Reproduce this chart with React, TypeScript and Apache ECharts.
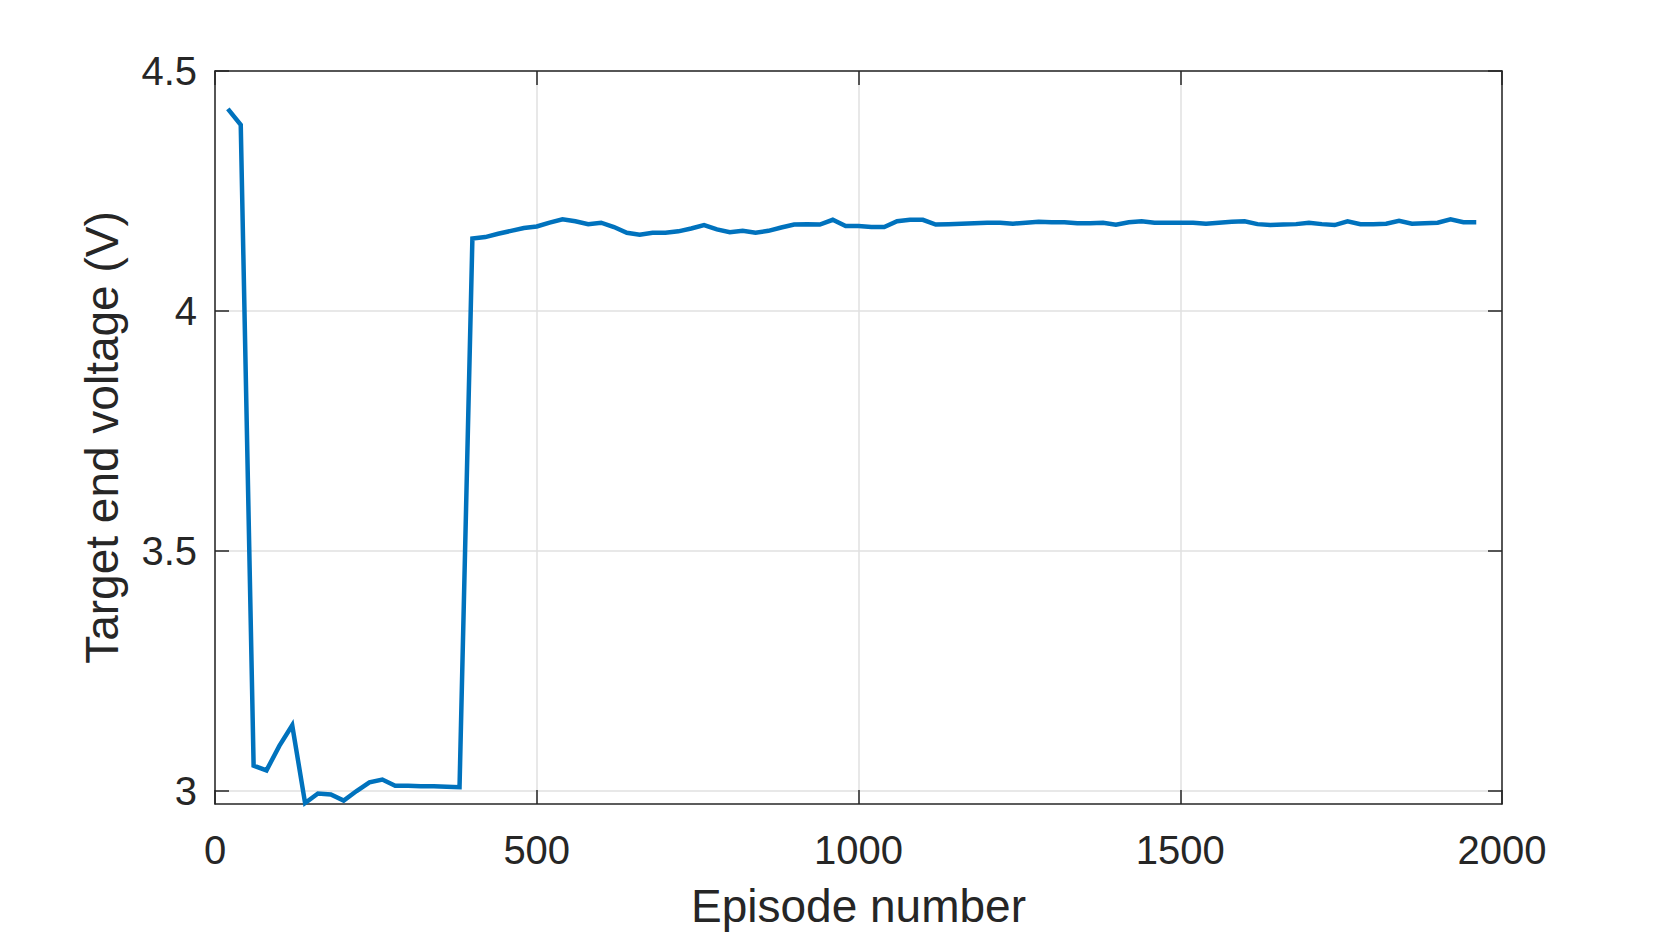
import React, { useEffect, useRef } from "react";
import * as echarts from "echarts";

const episodes: number[] = [
  20, 40, 60, 80, 100, 120, 140, 160, 180, 200, 220, 240, 260, 280, 300, 320, 340, 360, 380, 400,
  420, 440, 460, 480, 500, 520, 540, 560, 580, 600, 620, 640, 660, 680, 700, 720, 740, 760, 780, 800,
  820, 840, 860, 880, 900, 920, 940, 960, 980, 1000, 1020, 1040, 1060, 1080, 1100, 1120, 1140, 1160, 1180, 1200,
  1220, 1240, 1260, 1280, 1300, 1320, 1340, 1360, 1380, 1400, 1420, 1440, 1460, 1480, 1500, 1520, 1540, 1560, 1580, 1600,
  1620, 1640, 1660, 1680, 1700, 1720, 1740, 1760, 1780, 1800, 1820, 1840, 1860, 1880, 1900, 1920, 1940, 1960,
];

const voltage: number[] = [
  4.421, 4.388, 3.053, 3.043, 3.094, 3.137, 2.975, 2.995, 2.993, 2.98, 3.0, 3.018, 3.024, 3.011, 3.011, 3.01, 3.01, 3.009, 3.008, 4.151,
  4.154, 4.161, 4.167, 4.173, 4.176, 4.184, 4.191, 4.187, 4.181, 4.184, 4.175, 4.163, 4.159, 4.163, 4.163, 4.166, 4.172, 4.179, 4.17, 4.164,
  4.167, 4.163, 4.167, 4.174, 4.18, 4.181, 4.18, 4.19, 4.177, 4.177, 4.175, 4.175, 4.187, 4.19, 4.19, 4.18, 4.181, 4.182, 4.183, 4.184,
  4.184, 4.182, 4.184, 4.186, 4.185, 4.185, 4.183, 4.183, 4.184, 4.18, 4.185, 4.187, 4.184, 4.184, 4.184, 4.184, 4.182, 4.184, 4.186, 4.187,
  4.181, 4.179, 4.18, 4.181, 4.184, 4.181, 4.179, 4.187, 4.181, 4.181, 4.182, 4.188, 4.182, 4.183, 4.184, 4.191, 4.185, 4.185,
];

const yTicks: number[] = [3, 3.5, 4, 4.5];
const yMin = 2.973;
const yMax = 4.5;
const xMin = 0;
const xMax = 2000;
const xInterval = 500;

const xLabel = "Episode number";
const yLabel = "Target end voltage (V)";

const FONT = "'Liberation Sans', Arial, Helvetica, sans-serif";
const TEXT = "#262626";
const GRID = "#e0e0e0";

export default function App() {
  const ref = useRef<HTMLDivElement>(null);

  useEffect(() => {
    if (!ref.current) return;
    const chart = echarts.init(ref.current, undefined, { renderer: "svg" });
    const axisLine = { show: true, onZero: false, lineStyle: { color: TEXT, width: 1.5 } };
    const tick = { show: true, inside: true, length: 14, lineStyle: { color: TEXT, width: 1.5 } };
    chart.setOption({
      animation: false,
      backgroundColor: "#ffffff",
      textStyle: { fontFamily: FONT },
      grid: { left: 215, right: 159, top: 71, bottom: 130, containLabel: false },
      xAxis: [
        {
          type: "value",
          min: xMin,
          max: xMax,
          interval: xInterval,
          position: "bottom",
          name: xLabel,
          nameLocation: "middle",
          nameGap: 79,
          nameTextStyle: { fontSize: 46, color: TEXT, fontFamily: FONT },
          axisLine,
          axisTick: tick,
          axisLabel: {
            fontSize: 40,
            color: TEXT,
            margin: 26,
            fontFamily: FONT,
            formatter: (v: number) => String(v),
          },
          splitLine: { show: true, lineStyle: { color: GRID, width: 1.5 } },
        },
        {
          type: "value",
          min: xMin,
          max: xMax,
          interval: xInterval,
          position: "top",
          axisLine,
          axisTick: tick,
          axisLabel: { show: false },
          splitLine: { show: false },
        },
      ],
      yAxis: [
        {
          type: "value",
          min: yMin,
          max: yMax,
          position: "left",
          name: yLabel,
          nameLocation: "middle",
          nameGap: 90,
          nameTextStyle: { fontSize: 46, color: TEXT, fontFamily: FONT },
          axisLine,
          axisTick: { ...tick, customValues: yTicks },
          axisLabel: {
            fontSize: 40,
            color: TEXT,
            margin: 18,
            fontFamily: FONT,
            customValues: yTicks,
            formatter: (v: number) => String(v),
          },
          splitLine: { show: true, lineStyle: { color: GRID, width: 1.5 } },
        },
        {
          type: "value",
          min: yMin,
          max: yMax,
          position: "right",
          axisLine,
          axisTick: { ...tick, customValues: yTicks },
          axisLabel: { show: false, customValues: yTicks },
          splitLine: { show: false },
        },
      ],
      series: [
        {
          type: "line",
          xAxisIndex: 0,
          yAxisIndex: 0,
          data: episodes.map((e, i) => [e, voltage[i]]),
          showSymbol: false,
          symbol: "none",
          lineStyle: { color: "#0072BD", width: 4.5, join: "miter" },
          itemStyle: { color: "#0072BD" },
          clip: false,
        },
      ],
    });
    return () => chart.dispose();
  }, []);

  return (
    <div
      ref={ref}
      style={{ position: "fixed", left: 0, top: 0, width: 1661, height: 934, background: "#fff" }}
    />
  );
}
